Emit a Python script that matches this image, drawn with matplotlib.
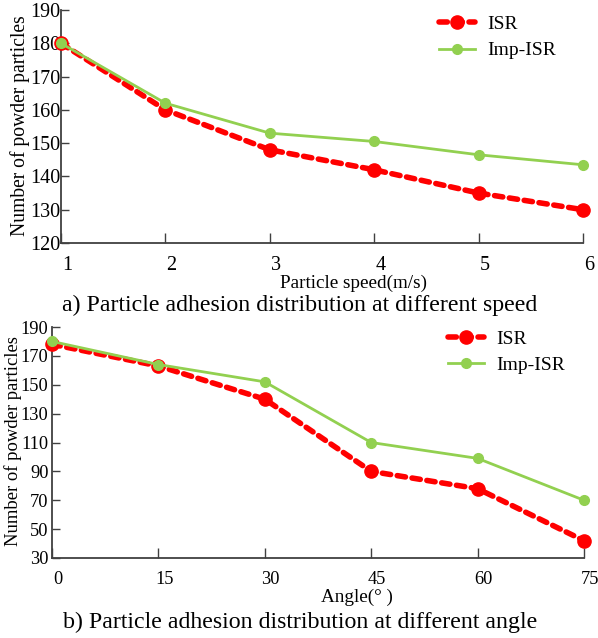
import matplotlib
matplotlib.use("Agg")
import matplotlib.pyplot as plt
from matplotlib.transforms import ScaledTranslation

plt.rcParams["font.family"] = ["Liberation Serif", "DejaVu Serif"]

# Panel a: particle speed
speed = [1, 2, 3, 4, 5, 6]
isr_speed = [180, 160, 148, 142, 135, 130]
imp_speed = [180, 162, 153, 150.5, 146.5, 143.5]
speed_yticks = [120, 130, 140, 150, 160, 170, 180, 190]

# Panel b: impact angle
angle = [0, 15, 30, 45, 60, 75]
isr_angle = [178, 163, 140, 90, 78, 42]
imp_angle = [180, 164, 152, 110, 99, 70]
angle_yticks = [30, 50, 70, 90, 110, 130, 150, 170, 190]

RED = "#FF0000"
GREEN = "#92D050"
SPINE = "#404040"

W, H = 598, 638
fig = plt.figure(figsize=(W / 100, H / 100), dpi=100)


def px_axes(l, t, r, b):
    return fig.add_axes([l / W, 1 - b / H, (r - l) / W, (b - t) / H])


def style(ax, x, xlim, ylim, yticks, tsize, ypad):
    ax.set_xlim(*xlim)
    ax.set_ylim(*ylim)
    ax.set_xticks(x)
    ax.set_yticks(yticks)
    for s in ("top", "right"):
        ax.spines[s].set_visible(False)
    for s in ("left", "bottom"):
        ax.spines[s].set_color(SPINE)
        ax.spines[s].set_linewidth(1.3)
    ax.tick_params(axis="y", direction="in", length=6, width=1, color=SPINE,
                   pad=ypad, labelsize=tsize)
    ax.tick_params(axis="x", direction="in", length=7, width=1, color=SPINE,
                   pad=9, labelsize=tsize)
    shift = ScaledTranslation(6 / 100, 0, fig.dpi_scale_trans)
    for lab in ax.get_xticklabels():
        lab.set_transform(lab.get_transform() + shift)
    ax.patch.set_alpha(0)


def draw(ax, x, a, b, legend_xy):
    ax.plot(x, a, color=RED, linestyle=(0, (1.5, 1.2)), linewidth=4,
            dash_capstyle="round", marker="o", markersize=9.5, label="ISR",
            clip_on=False, zorder=3)
    ax.plot(x, b, color=GREEN, linestyle="-", linewidth=2,
            marker="o", markersize=7, label="Imp-ISR", clip_on=False, zorder=4)
    ax.legend(loc="upper left", bbox_to_anchor=legend_xy, frameon=False,
              fontsize=14, handlelength=1.85, handletextpad=0.6,
              labelspacing=0.45, borderaxespad=0)


ax1 = px_axes(61, 10, 583, 243)
draw(ax1, speed, isr_speed, imp_speed, (0.71, 1.01))
style(ax1, speed, (1, 6), (120, 190), speed_yticks, 14.5, 0.5)

ax2 = px_axes(52, 327, 584, 558)
draw(ax2, angle, isr_angle, imp_angle, (0.73, 1.02))
style(ax2, angle, (0, 75), (30, 190), angle_yticks, 13.2, 2.5)


def ftext(x, y, s, size, **kw):
    fig.text(x / W, 1 - y / H, s, fontsize=size, ha="center", va="center", **kw)


ftext(20, 126, "Number of powder particles", 14.1, rotation=90)
ftext(353, 283, "Particle speed(m/s)", 13.8)
ftext(300, 305, "a) Particle adhesion distribution at different speed", 17.2)

ftext(13, 441, "Number of powder particles", 13.4, rotation=90)
ftext(357, 597, "Angle(° )", 13.8)
ftext(300, 622, "b) Particle adhesion distribution at different angle", 17.2)

fig.savefig("out.png", dpi=100)
